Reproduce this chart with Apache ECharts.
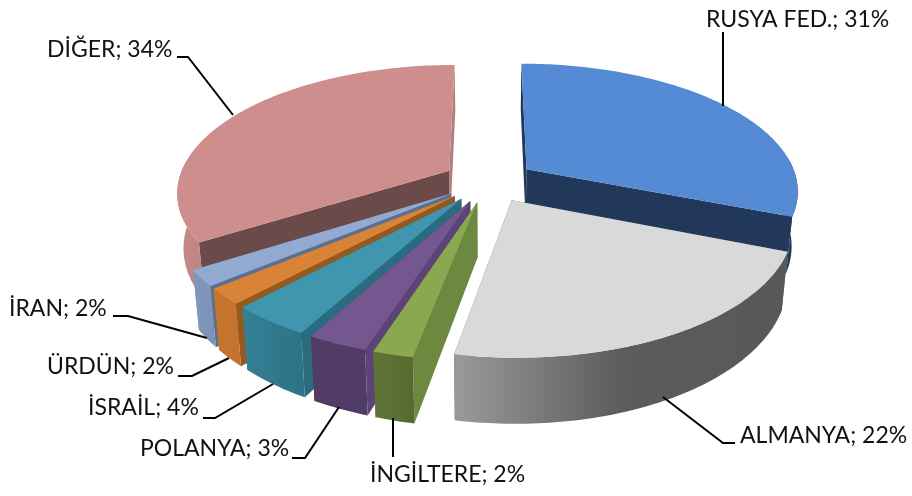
<!DOCTYPE html>
<html>
<head>
<meta charset="utf-8">
<style>
  html, body { margin: 0; padding: 0; background: #fff; }
  #chart { width: 912px; height: 496px; }
</style>
<script src="https://cdn.jsdelivr.net/npm/echarts@6/dist/echarts.min.js"></script>
</head>
<body>
<div id="chart"></div>
<script>
// values, clockwise from 12 o'clock
var categories = ['RUSYA FED.', 'ALMANYA', 'İNGİLTERE', 'POLANYA', 'İSRAİL', 'ÜRDÜN', 'İRAN', 'DİĞER'];
var shares = [31, 22, 2, 3, 4, 2, 2, 34];

// top, start wall, end wall, rim gradient stops
var palette = [
  { top: '#558bd4', start: '#21385a', end: '#21385a', rim: ['#21385a', '#21385a'] },
  { top: '#d9d9d9', start: '#666666', end: '#666666', rim: ['#9a9a9a', '#5c5c5c', '#585858'] },
  { top: '#8aa84f', start: '#6d883f', end: '#5a6e33', rim: ['#5f7536', '#566a30'] },
  { top: '#75578f', start: '#5c4379', end: '#503c67', rim: ['#503c67', '#503c65'] },
  { top: '#3f96ae', start: '#2b6b7f', end: '#2f7489', rim: ['#348095', '#2e7186'] },
  { top: '#d98339', start: '#93591f', end: '#b96b2a', rim: ['#c6752f', '#c4732e'] },
  { top: '#92a9d2', start: '#5a7090', end: '#7f95b8', rim: ['#8098bd', '#7c92b6'] },
  { top: '#cd8e8d', start: '#6b4a4a', end: '#b07f7f', rim: ['#c48a89', '#bd8483'] }
];

// leader lines and label anchors
var leaders = [
  [[723, 32], [723, 106]],
  [[663, 397], [723, 443], [735, 443]],
  [[393, 418], [393, 457]],
  [[339, 407], [305, 458], [292, 458]],
  [[273, 384], [215, 418], [203, 418]],
  [[229, 358], [192, 376], [178, 376]],
  [[207, 338], [128, 316], [113, 316]],
  [[233, 115], [188, 57], [177, 57]]
];
var labelAt = [[706, 20], [740, 436], [370, 475], [140, 449], [88, 408], [47, 367], [9, 309], [47, 50]];

// projection of the pie plane
var cx = 489, cy = 181;
var radius = 271, explode = 46, depth = 54;
var persp = 0.000587, tilt = 0.464, bottomShrink = 0.98;

function project(x, z, low) {
  var s = 1 / (1 - persp * z);
  if (low) return [cx + x * s * bottomShrink, cy + tilt * z * s + depth * s];
  return [cx + x * s, cy + tilt * z * s];
}
function rimPoint(deg, off, low) {
  var a = deg * Math.PI / 180;
  return project(off[0] + radius * Math.sin(a), off[1] - radius * Math.cos(a), low);
}
function arc(from, to, off, low) {
  var pts = [];
  var n = Math.max(2, Math.ceil(Math.abs(to - from)));
  for (var i = 0; i <= n; i++) pts.push(rimPoint(from + (to - from) * i / n, off, low));
  return pts;
}

var total = shares.reduce(function (a, b) { return a + b; }, 0);
var startAngles = [];
shares.reduce(function (sum, v) { startAngles.push(sum / total * 360); return sum + v; }, 0);

// back slices are painted first
var paintOrder = shares.map(function (v, i) { return i; }).sort(function (a, b) {
  var ma = startAngles[a] + shares[a] / total * 180, mb = startAngles[b] + shares[b] / total * 180;
  return -Math.cos(ma * Math.PI / 180) + Math.cos(mb * Math.PI / 180);
});

function poly(points, fill, z2) {
  return { type: 'polygon', z2: z2, shape: { points: points }, style: { fill: fill, stroke: null }, silent: true };
}

function renderSlice(params, api) {
  var i = params.dataIndex;
  var from = startAngles[i];
  var to = from + api.value(0) / total * 360;
  var mid = (from + to) / 2 * Math.PI / 180;
  var off = [explode * Math.sin(mid), -explode * Math.cos(mid)];
  var col = palette[i];
  var base = paintOrder.indexOf(i) * 5;

  var apexTop = project(off[0], off[1], false);
  var apexLow = project(off[0], off[1], true);
  var children = [];

  children.push(poly([apexTop, rimPoint(to, off, false), rimPoint(to, off, true), apexLow], col.end, base));
  children.push(poly([apexTop, rimPoint(from, off, false), rimPoint(from, off, true), apexLow], col.start, base + 1));

  // only the front of the rim shows
  var rimFrom = Math.max(from, 85), rimTo = Math.min(to, 275);
  if (rimTo > rimFrom) {
    // the rim runs right to left as the angle grows
    var stops = col.rim.map(function (c, k) { return { offset: k / (col.rim.length - 1), color: c }; });
    var grad = new echarts.graphic.LinearGradient(0, 0, 1, 0, stops);
    var rimPts = arc(rimFrom, rimTo, off, false).concat(arc(rimFrom, rimTo, off, true).reverse());
    children.push(poly(rimPts, grad, base + 2));
  }

  children.push(poly([apexTop].concat(arc(from, to, off, false)), col.top, base + 3));

  children.push({
    type: 'polyline', z2: 100, silent: true,
    shape: { points: leaders[i] },
    style: { fill: null, stroke: '#000', lineWidth: 2 }
  });
  children.push({
    type: 'text', z2: 101, silent: true,
    x: labelAt[i][0], y: labelAt[i][1],
    style: {
      text: categories[i] + '; ' + api.value(0) + '%',
      font: '23px Lato', fill: '#111', textAlign: 'left', textVerticalAlign: 'middle'
    }
  });
  return { type: 'group', children: children };
}

var chart = echarts.init(document.getElementById('chart'), null, { renderer: 'canvas' });
chart.setOption({
  animation: false,
  backgroundColor: '#fff',
  tooltip: { show: false },
  series: [{
    type: 'custom',
    coordinateSystem: 'none',
    renderItem: renderSlice,
    data: shares.map(function (v) { return [v]; })
  }]
});
</script>
</body>
</html>
